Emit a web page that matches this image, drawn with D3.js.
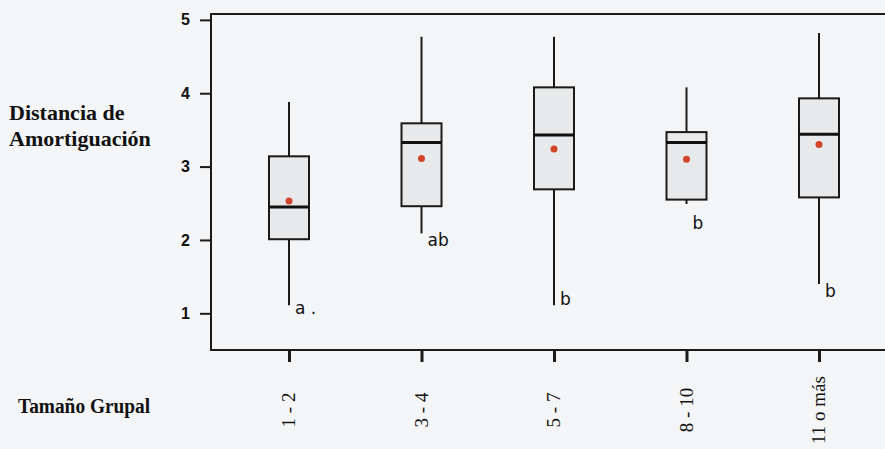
<!DOCTYPE html>
<html>
<head>
<meta charset="utf-8">
<script src="https://cdn.jsdelivr.net/npm/d3@7"></script>
<style>
  html, body { margin: 0; padding: 0; background: #f4f5f6; }
  svg { display: block; }
  .ylab { font-family: "Liberation Serif", serif; font-weight: bold; font-size: 22px; fill: #111; }
  .ytick { font-family: "Liberation Sans", sans-serif; font-weight: bold; font-size: 16px; fill: #111; }
  .xtick { font-family: "Liberation Serif", serif; font-size: 19px; fill: #111; }
  .letter { font-family: "DejaVu Sans", sans-serif; font-size: 17px; fill: #111; }
</style>
</head>
<body>
<div id="chart"></div>
<script>
const groups = ["1 - 2", "3 - 4", "5 - 7", "8 - 10", "11 o más"];
const whiskerLow = [1.11, 2.09, 1.11, 2.49, 1.40];
const q1 = [2.01, 2.46, 2.69, 2.55, 2.58];
const median = [2.45, 3.33, 3.43, 3.33, 3.44];
const q3 = [3.14, 3.59, 4.08, 3.47, 3.93];
const whiskerHigh = [3.88, 4.77, 4.77, 4.08, 4.82];
const means = [2.53, 3.11, 3.24, 3.10, 3.30];
const letters = ["a .", "ab", "b", "b", "b"];
const letterAt = [1.07, 2.00, 1.20, 2.23, 1.31];
const yTicks = [1, 2, 3, 4, 5];

const width = 885;
const height = 449;
const frame = { left: 211, top: 14, bottom: 350 };

const svg = d3.select("#chart").append("svg")
    .attr("width", width)
    .attr("height", height);

svg.append("rect").attr("width", width).attr("height", height).attr("fill", "#f4f5f6");

const y = d3.scaleLinear().domain([0.5, 5.08]).range([frame.bottom, frame.top]);
const x = d3.scalePoint().domain(groups).range([289, 819]);
const boxW = 40;

// frame
svg.append("path")
    .attr("d", `M${width + 5},${frame.top}H${frame.left}V${frame.bottom}H${width + 5}`)
    .attr("fill", "none")
    .attr("stroke", "#1a1a1a")
    .attr("stroke-width", 2);

// y axis
const yAxis = svg.append("g")
    .attr("transform", `translate(${frame.left},0)`)
    .call(d3.axisLeft(y).tickValues(yTicks).tickSize(11).tickPadding(10).tickFormat(d3.format("d")));
yAxis.select(".domain").remove();
yAxis.selectAll(".tick line").attr("stroke", "#1a1a1a").attr("stroke-width", 2);
yAxis.selectAll(".tick text").attr("class", "ytick").attr("font-family", null).attr("font-size", null);

// x axis ticks + rotated labels
const xAxis = svg.append("g")
    .attr("transform", `translate(0,${frame.bottom})`)
    .call(d3.axisBottom(x).tickSize(12).tickFormat(""));
xAxis.select(".domain").remove();
xAxis.selectAll(".tick line").attr("stroke", "#1a1a1a").attr("stroke-width", 3);

svg.selectAll(".xtick")
    .data(groups)
    .join("text")
    .attr("class", "xtick")
    .attr("transform", d => `translate(${x(d) + 6},410) rotate(-90)`)
    .attr("text-anchor", "middle")
    .text(d => d);

// boxes
const boxes = svg.selectAll(".box")
    .data(groups)
    .join("g")
    .attr("class", "box");

boxes.append("line")
    .attr("x1", d => x(d)).attr("x2", d => x(d))
    .attr("y1", (d, i) => y(whiskerHigh[i]))
    .attr("y2", (d, i) => y(q3[i]))
    .attr("stroke", "#1a1a1a").attr("stroke-width", 2);

boxes.append("line")
    .attr("x1", d => x(d)).attr("x2", d => x(d))
    .attr("y1", (d, i) => y(q1[i]))
    .attr("y2", (d, i) => y(whiskerLow[i]))
    .attr("stroke", "#1a1a1a").attr("stroke-width", 2);

boxes.append("rect")
    .attr("x", d => x(d) - boxW / 2)
    .attr("width", boxW)
    .attr("y", (d, i) => y(q3[i]))
    .attr("height", (d, i) => y(q1[i]) - y(q3[i]))
    .attr("fill", "#e7e9ea")
    .attr("stroke", "#1a1a1a")
    .attr("stroke-width", 2);

boxes.append("line")
    .attr("x1", d => x(d) - boxW / 2).attr("x2", d => x(d) + boxW / 2)
    .attr("y1", (d, i) => y(median[i]))
    .attr("y2", (d, i) => y(median[i]))
    .attr("stroke", "#111").attr("stroke-width", 3);

boxes.append("circle")
    .attr("cx", d => x(d))
    .attr("cy", (d, i) => y(means[i]))
    .attr("r", 3.5)
    .attr("fill", "#d2452a");

boxes.append("text")
    .attr("class", "letter")
    .attr("x", d => x(d) + 6)
    .attr("y", (d, i) => y(letterAt[i]))
    .attr("dy", "0.35em")
    .text((d, i) => letters[i]);

// axis titles
svg.append("text").attr("class", "ylab").attr("x", 9).attr("y", 120).text("Distancia de");
svg.append("text").attr("class", "ylab").attr("x", 9).attr("y", 146).text("Amortiguación");
svg.append("text").attr("class", "ylab").attr("x", 18).attr("y", 413)
    .attr("transform", "translate(18,413) scale(0.88,1) translate(-18,-413)")
    .text("Tamaño Grupal");
</script>
</body>
</html>
